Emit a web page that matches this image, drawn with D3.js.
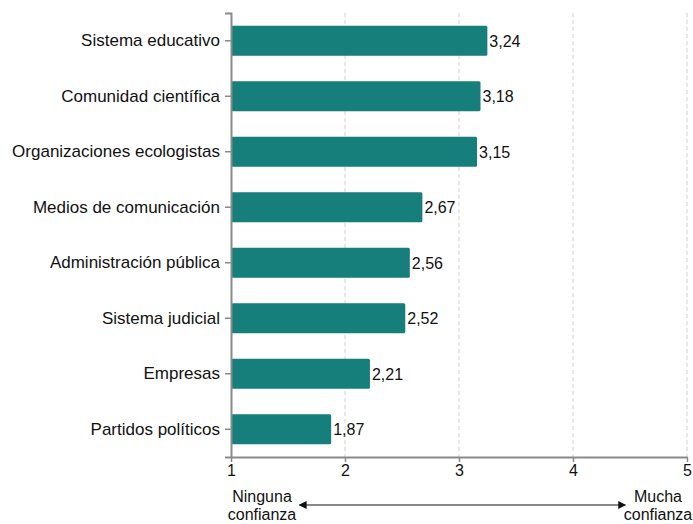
<!DOCTYPE html>
<html><head><meta charset="utf-8">
<script src="https://cdn.jsdelivr.net/npm/d3@7"></script>
<style>body{margin:0;background:#fff;} text{font-family:"Liberation Sans",Arial,sans-serif;}</style>
</head><body>
<svg id="c" width="693" height="524"></svg>
<script>
const categories = ["Sistema educativo","Comunidad científica","Organizaciones ecologistas","Medios de comunicación","Administración pública","Sistema judicial","Empresas","Partidos políticos"];
const values = [3.24,3.18,3.15,2.67,2.56,2.52,2.21,1.87];
const xTicks = [1,2,3,4,5];
const scaleLabels = [["Ninguna","confianza"],["Mucha","confianza"]];

const svg = d3.select("#c");
const x = d3.scaleLinear().domain([1,5]).range([231,687]);
const y = d3.scaleBand().domain(categories).range([13,457]).paddingInner(0.46).paddingOuter(0.23);
const fmt = v => d3.format(".2f")(v).replace(".", ",");

// gridlines
svg.append("g").selectAll("line").data(xTicks.slice(1)).join("line")
  .attr("x1",d=>x(d)).attr("x2",d=>x(d)).attr("y1",13).attr("y2",457)
  .attr("stroke","#d0d0d0").attr("stroke-dasharray","4,3").attr("stroke-width",1);

// bars
svg.append("g").selectAll("rect").data(values).join("rect")
  .attr("x",x(1)).attr("y",(d,i)=>y(categories[i]))
  .attr("width",d=>x(d)-x(1)+1).attr("height",y.bandwidth())
  .attr("rx",1.5).attr("fill","#167e7b");

// value labels
svg.append("g").selectAll("text").data(values).join("text")
  .attr("x",d=>x(d)+3).attr("y",(d,i)=>y(categories[i])+y.bandwidth()/2)
  .attr("dy","0.36em").attr("font-size",16).attr("fill","#111").text(fmt);

// y axis
const yAxis = svg.append("g").attr("transform",`translate(${x(1)},0)`)
  .call(d3.axisLeft(y).tickSize(6).tickPadding(5));
yAxis.select(".domain").attr("stroke","#8a8a8a").attr("stroke-width",2);
yAxis.selectAll(".tick line").attr("stroke","#8a8a8a").attr("stroke-width",1.5);
yAxis.selectAll(".tick text").attr("font-size",17).attr("fill","#111").style("font-family","Liberation Sans, Arial, sans-serif");

// x axis
const xAxis = svg.append("g").attr("transform","translate(0,457)")
  .call(d3.axisBottom(x).tickValues(xTicks).tickFormat(d3.format("d")).tickSize(5).tickSizeOuter(0).tickPadding(3));
xAxis.select(".domain").attr("stroke","#8a8a8a").attr("stroke-width",2);
xAxis.selectAll(".tick line").attr("stroke","#8a8a8a").attr("stroke-width",1.5);
xAxis.selectAll(".tick text").attr("font-size",16).attr("fill","#111").style("font-family","Liberation Sans, Arial, sans-serif");

// scale descriptors
const lg = svg.append("g");
lg.append("text").attr("y",502).attr("text-anchor","middle").attr("font-size",16).attr("fill","#111")
  .selectAll("tspan").data(scaleLabels[0]).join("tspan").attr("x",x(1)+31).attr("dy",(d,i)=>i?18:0).text(d=>d);
lg.append("text").attr("y",502).attr("text-anchor","middle").attr("font-size",16).attr("fill","#111")
  .selectAll("tspan").data(scaleLabels[1]).join("tspan").attr("x",x(5)-29).attr("dy",(d,i)=>i?18:0).text(d=>d);

const defs = svg.append("defs");
defs.append("marker").attr("id","ah").attr("viewBox","0 0 10 10").attr("refX",9).attr("refY",5)
  .attr("markerWidth",8).attr("markerHeight",8).attr("orient","auto-start-reverse")
  .append("path").attr("d","M0,0L10,5L0,10Z").attr("fill","#111");
lg.append("line").attr("x1",x(1.6)).attr("x2",x(4.46)).attr("y1",505).attr("y2",505)
  .attr("stroke","#111").attr("stroke-width",1)
  .attr("marker-start","url(#ah)").attr("marker-end","url(#ah)");
</script>
</body></html>
